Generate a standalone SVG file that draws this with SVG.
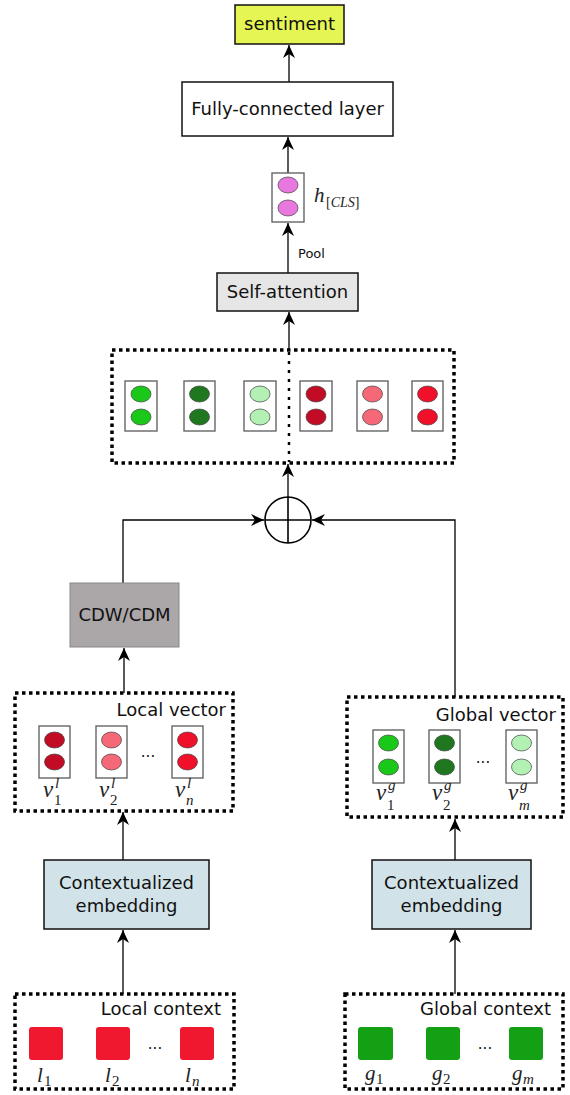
<svg xmlns="http://www.w3.org/2000/svg" width="570" height="1095" viewBox="0 0 570 1095">
<style>
.t{font-family:"DejaVu Sans",sans-serif;font-size:18px;fill:#111}
.m{font-family:"Liberation Serif",serif;font-style:italic;fill:#222}
.n{font-family:"Liberation Serif",serif;fill:#222}
.box{stroke:#111;stroke-width:1.5}
.dot{fill:none;stroke:#000;stroke-width:3.5;stroke-dasharray:3.5 3.5}
.vec{fill:#fff;stroke:#666;stroke-width:1.4}
.el{stroke:#444;stroke-width:0.7}
.c{fill:none;stroke:#000;stroke-width:1.3}
.sq{stroke:none}
</style>
<defs>
<marker id="a" markerUnits="userSpaceOnUse" markerWidth="14" markerHeight="12" viewBox="0 0 14 12" refX="13" refY="6" orient="auto">
<path d="M0,0 L13,6 L0,12 L4,6 z" fill="#000"/>
</marker>
</defs>

<g id="connectors">
<line class="c" x1="289" y1="82" x2="289" y2="45" marker-end="url(#a)"/>
<line class="c" x1="288" y1="173" x2="288" y2="137" marker-end="url(#a)"/>
<line class="c" x1="288" y1="273" x2="288" y2="223" marker-end="url(#a)"/>
<line class="c" x1="289" y1="350" x2="289" y2="312" marker-end="url(#a)"/>
<line class="c" x1="288" y1="497" x2="288" y2="464" marker-end="url(#a)"/>
<path class="c" d="M123,583 V520 H264" marker-end="url(#a)"/>
<path class="c" d="M455,697 V520 H312" marker-end="url(#a)"/>
<line class="c" x1="124" y1="693" x2="124" y2="648" marker-end="url(#a)"/>
<line class="c" x1="123" y1="860" x2="123" y2="812" marker-end="url(#a)"/>
<line class="c" x1="123" y1="994" x2="123" y2="930" marker-end="url(#a)"/>
<line class="c" x1="455" y1="860" x2="455" y2="819" marker-end="url(#a)"/>
<line class="c" x1="455" y1="994" x2="455" y2="930" marker-end="url(#a)"/>
<text class="t" x="298" y="258" style="font-size:13px">Pool</text>
</g>

<g id="sentiment">
<rect class="box" x="235" y="5" width="109" height="39" fill="#e5f553" stroke-width="2"/>
<text class="t" x="289.5" y="30" text-anchor="middle">sentiment</text>
</g>

<g id="fc">
<rect class="box" x="182" y="82" width="211" height="54" fill="#fff"/>
<text class="t" x="287.5" y="115" text-anchor="middle">Fully-connected layer</text>
</g>

<g id="hcls">
<rect class="vec" x="272" y="173" width="32" height="49"/>
<ellipse class="el" cx="288" cy="185" rx="10" ry="8" fill="#e878e0"/>
<ellipse class="el" cx="288" cy="208" rx="10" ry="8" fill="#e878e0"/>
<text class="m" x="314" y="202" font-size="21">h</text>
<text class="n" x="326" y="207" font-size="14">[<tspan class="m">CLS</tspan>]</text>
</g>

<g id="selfatt">
<rect class="box" x="217" y="273" width="141" height="38" fill="#e6e6e6" stroke-width="2.5"/>
<text class="t" x="287.5" y="298" text-anchor="middle">Self-attention</text>
</g>

<g id="concat">
<rect class="dot" x="112" y="350" width="342" height="113"/>
<line x1="289" y1="352" x2="289" y2="462" stroke="#000" stroke-width="2.5" stroke-dasharray="3 6"/>
<rect class="vec" x="125" y="381" width="32" height="50"/>
<ellipse class="el" cx="141" cy="394" rx="10" ry="8" fill="#1ac81a"/>
<ellipse class="el" cx="141" cy="417" rx="10" ry="8" fill="#1ac81a"/>
<rect class="vec" x="184" y="381" width="31" height="50"/>
<ellipse class="el" cx="199.5" cy="394" rx="10" ry="8" fill="#1f771f"/>
<ellipse class="el" cx="199.5" cy="417" rx="10" ry="8" fill="#1f771f"/>
<rect class="vec" x="244" y="381" width="32" height="50"/>
<ellipse class="el" cx="260" cy="394" rx="10" ry="8" fill="#b3f0b3"/>
<ellipse class="el" cx="260" cy="417" rx="10" ry="8" fill="#b3f0b3"/>
<rect class="vec" x="300" y="381" width="32" height="50"/>
<ellipse class="el" cx="316" cy="394" rx="10" ry="8" fill="#c20c25"/>
<ellipse class="el" cx="316" cy="417" rx="10" ry="8" fill="#c20c25"/>
<rect class="vec" x="357" y="381" width="31" height="50"/>
<ellipse class="el" cx="372.5" cy="394" rx="10" ry="8" fill="#f56878"/>
<ellipse class="el" cx="372.5" cy="417" rx="10" ry="8" fill="#f56878"/>
<rect class="vec" x="412" y="381" width="31" height="50"/>
<ellipse class="el" cx="427.5" cy="394" rx="10" ry="8" fill="#f0102a"/>
<ellipse class="el" cx="427.5" cy="417" rx="10" ry="8" fill="#f0102a"/>
</g>

<g id="oplus">
<circle cx="288" cy="520" r="23" fill="#fff" stroke="#000" stroke-width="1.6"/>
<line x1="288" y1="497" x2="288" y2="543" stroke="#000" stroke-width="1.6"/>
<line x1="265" y1="520" x2="311" y2="520" stroke="#000" stroke-width="1.6"/>
</g>

<g id="cdw">
<rect x="70" y="583" width="109" height="64" fill="#aba6a8" stroke="#888" stroke-width="1"/>
<text class="t" x="124.5" y="621" text-anchor="middle">CDW/CDM</text>
</g>

<g id="localvec">
<rect class="dot" x="15" y="693" width="218" height="118"/>
<text class="t" x="226" y="716" text-anchor="end">Local vector</text>
<rect class="vec" x="39" y="726" width="31" height="52"/>
<ellipse class="el" cx="54.5" cy="740" rx="10" ry="8" fill="#c20c25"/>
<ellipse class="el" cx="54.5" cy="762" rx="10" ry="8" fill="#c20c25"/>
<rect class="vec" x="96" y="726" width="31" height="52"/>
<ellipse class="el" cx="111.5" cy="740" rx="10" ry="8" fill="#f56878"/>
<ellipse class="el" cx="111.5" cy="762" rx="10" ry="8" fill="#f56878"/>
<rect class="vec" x="172" y="726" width="31" height="52"/>
<ellipse class="el" cx="187.5" cy="740" rx="10" ry="8" fill="#f0102a"/>
<ellipse class="el" cx="187.5" cy="762" rx="10" ry="8" fill="#f0102a"/>
<text class="t" x="148" y="757" text-anchor="middle" style="font-size:15px">...</text>
<text class="m" x="43" y="797" font-size="23">v</text>
<text class="m" x="55" y="788" font-size="15">l</text>
<text class="n" x="54" y="805" font-size="15">1</text>
<text class="m" x="99" y="797" font-size="23">v</text>
<text class="m" x="111" y="788" font-size="15">l</text>
<text class="n" x="110" y="805" font-size="15">2</text>
<text class="m" x="175" y="797" font-size="23">v</text>
<text class="m" x="187" y="788" font-size="15">l</text>
<text class="m" x="186" y="805" font-size="15">n</text>
</g>

<g id="globalvec">
<rect class="dot" x="347" y="697" width="216" height="120"/>
<text class="t" x="556" y="721" text-anchor="end">Global vector</text>
<rect class="vec" x="373" y="730" width="31" height="53"/>
<ellipse class="el" cx="388.5" cy="743" rx="10" ry="8" fill="#1ac81a"/>
<ellipse class="el" cx="388.5" cy="767" rx="10" ry="8" fill="#1ac81a"/>
<rect class="vec" x="429" y="730" width="31" height="53"/>
<ellipse class="el" cx="444.5" cy="743" rx="10" ry="8" fill="#1f771f"/>
<ellipse class="el" cx="444.5" cy="767" rx="10" ry="8" fill="#1f771f"/>
<rect class="vec" x="506" y="730" width="31" height="53"/>
<ellipse class="el" cx="521.5" cy="743" rx="10" ry="8" fill="#b3f0b3"/>
<ellipse class="el" cx="521.5" cy="767" rx="10" ry="8" fill="#b3f0b3"/>
<text class="t" x="483" y="763" text-anchor="middle" style="font-size:15px">...</text>
<text class="m" x="376" y="800" font-size="23">v</text>
<text class="m" x="388" y="790" font-size="15">g</text>
<text class="n" x="387" y="810" font-size="15">1</text>
<text class="m" x="432" y="800" font-size="23">v</text>
<text class="m" x="444" y="790" font-size="15">g</text>
<text class="n" x="443" y="810" font-size="15">2</text>
<text class="m" x="508" y="800" font-size="23">v</text>
<text class="m" x="520" y="790" font-size="15">g</text>
<text class="m" x="519" y="810" font-size="15">m</text>
</g>

<g id="embedlocal">
<rect class="box" x="44" y="860" width="165" height="69" fill="#d1e3e8" stroke-width="2.5"/>
<text class="t" x="126.5" y="889" text-anchor="middle">Contextualized</text>
<text class="t" x="126.5" y="912" text-anchor="middle">embedding</text>
</g>

<g id="embedglobal">
<rect class="box" x="372" y="860" width="159" height="69" fill="#d1e3e8" stroke-width="2.5"/>
<text class="t" x="451.5" y="889" text-anchor="middle">Contextualized</text>
<text class="t" x="451.5" y="912" text-anchor="middle">embedding</text>
</g>

<g id="localctx">
<rect class="dot" x="15" y="994" width="219" height="95"/>
<text class="t" x="221" y="1015" text-anchor="end">Local context</text>
<rect class="sq" x="29" y="1027" width="34" height="33" rx="3" fill="#f0182e"/>
<rect class="sq" x="96" y="1027" width="34" height="33" rx="3" fill="#f0182e"/>
<rect class="sq" x="180" y="1027" width="34" height="33" rx="3" fill="#f0182e"/>
<text class="t" x="155" y="1049" text-anchor="middle" style="font-size:15px">...</text>
<text class="m" x="37" y="1082" font-size="21">l</text>
<text class="n" x="44" y="1086" font-size="15">1</text>
<text class="m" x="105" y="1082" font-size="21">l</text>
<text class="n" x="112" y="1086" font-size="15">2</text>
<text class="m" x="185" y="1082" font-size="21">l</text>
<text class="m" x="192" y="1086" font-size="15">n</text>
</g>

<g id="globalctx">
<rect class="dot" x="345" y="994" width="218" height="95"/>
<text class="t" x="551" y="1015" text-anchor="end">Global context</text>
<rect class="sq" x="358" y="1027" width="35" height="33" rx="3" fill="#14a014"/>
<rect class="sq" x="426" y="1027" width="34" height="33" rx="3" fill="#14a014"/>
<rect class="sq" x="509" y="1027" width="34" height="33" rx="3" fill="#14a014"/>
<text class="t" x="485" y="1049" text-anchor="middle" style="font-size:15px">...</text>
<text class="m" x="365" y="1080" font-size="21">g</text>
<text class="n" x="376" y="1084" font-size="15">1</text>
<text class="m" x="432" y="1080" font-size="21">g</text>
<text class="n" x="443" y="1084" font-size="15">2</text>
<text class="m" x="512" y="1080" font-size="21">g</text>
<text class="m" x="523" y="1084" font-size="15">m</text>
</g>
</svg>
